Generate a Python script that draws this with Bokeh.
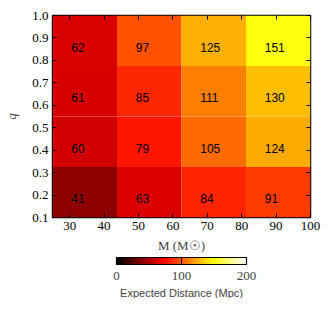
import numpy as np
from bokeh.plotting import figure
from bokeh.models import (LinearColorMapper, ColorBar, FixedTicker, LinearAxis,
                          ColumnDataSource, Title, Range1d, PrintfTickFormatter)
from bokeh.core.properties import value
from bokeh.embed import file_html
from bokeh.resources import INLINE

# ---- data ----
m_edges = [25.0, 43.75, 62.5, 81.25, 100.0]
q_edges = [0.1, 0.325, 0.55, 0.775, 1.0]
# rows: q bins bottom -> top ; columns: M bins left -> right
distance = [
    [41, 63, 84, 91],
    [60, 79, 105, 124],
    [61, 85, 111, 130],
    [62, 97, 125, 151],
]
x_ticks = [30, 40, 50, 60, 70, 80, 90, 100]
y_ticks = [0.1, 0.2, 0.3, 0.4, 0.5, 0.6, 0.7, 0.8, 0.9, 1.0]
cbar_ticks = [0, 100, 200]
cbar_low, cbar_high = 0, 200

# matplotlib "hot" colormap
def hot(n=256):
    cols = []
    for i in range(n):
        t = i / (n - 1)
        r = min(max(t / 0.365079, 0), 1)
        g = min(max((t - 0.365079) / (0.746032 - 0.365079), 0), 1)
        b = min(max((t - 0.746032) / (1 - 0.746032), 0), 1)
        cols.append("#%02x%02x%02x" % (int(round(r * 255)), int(round(g * 255)), int(round(b * 255))))
    return cols

palette = hot()
mapper = LinearColorMapper(palette=palette, low=cbar_low, high=cbar_high)

left, right, bottom, top, vals, tx, ty, labels = [], [], [], [], [], [], [], []
for i in range(4):
    for j in range(4):
        l, r = m_edges[j], m_edges[j + 1]
        b, t = q_edges[i], q_edges[i + 1]
        left.append(l); right.append(r); bottom.append(b); top.append(t)
        v = distance[i][j]
        vals.append(v)
        tx.append(l + 0.29 * (r - l))
        ty.append((b + t) / 2 - 0.125 * (t - b))
        labels.append(str(v))

src = ColumnDataSource(dict(left=left, right=right, bottom=bottom, top=top, v=vals,
                            tx=tx, ty=ty, lab=labels))

p = figure(frame_width=258, frame_height=202, output_backend="svg", toolbar_location=None,
           x_range=Range1d(25, 100), y_range=Range1d(0.1, 1.0),
           min_border_left=52, min_border_top=15, min_border_right=14, min_border_bottom=0)
p.background_fill_color = "white"
p.outline_line_color = "black"
p.outline_line_width = 1.5
p.xgrid.visible = False
p.ygrid.visible = False

p.quad(left="left", right="right", bottom="bottom", top="top", source=src,
       fill_color={"field": "v", "transform": mapper}, line_color=None)
p.text(x="tx", y="ty", text="lab", source=src, text_font=value("Liberation Sans"),
       text_font_size="12px", text_baseline="middle", text_align="left", text_color="black")

serif = "Liberation Serif"
for ax in (p.xaxis[0], p.yaxis[0]):
    ax.major_label_text_font = serif
    ax.major_label_text_font_size = "13px"
    ax.major_label_text_color = "black"
    ax.axis_label_text_font = serif
    ax.axis_label_text_font_style = "normal"
    ax.axis_label_text_font_size = "13px"
    ax.major_tick_in = 4
    ax.major_tick_out = 0
    ax.minor_tick_line_color = None
    ax.axis_line_color = None
    ax.major_tick_line_color = "black"
    ax.major_label_standoff = 4

p.xaxis[0].ticker = FixedTicker(ticks=x_ticks)
p.yaxis[0].ticker = FixedTicker(ticks=y_ticks)
p.yaxis[0].formatter = PrintfTickFormatter(format="%.1f")
p.xaxis[0].axis_label = "M (M\u2609)"
p.yaxis[0].axis_label = "q"
p.yaxis[0].axis_label_text_font_style = "italic"
p.xaxis[0].axis_label_standoff = 5
p.yaxis[0].axis_label_standoff = 10

for loc, tk in (("above", x_ticks), ("right", y_ticks)):
    ax = LinearAxis(ticker=FixedTicker(ticks=tk), major_label_text_font_size="1px",
                    major_label_text_color=None,
                    major_label_standoff=0, major_tick_in=4, major_tick_out=0,
                    minor_tick_line_color=None, axis_line_color=None)
    p.add_layout(ax, loc)

cb = ColorBar(color_mapper=mapper, orientation="horizontal", width=130, height=7,
              ticker=FixedTicker(ticks=cbar_ticks), location="center",
              major_label_text_font=serif, major_label_text_font_size="13px",
              major_tick_line_color="black", major_tick_in=7, major_tick_out=0,
              minor_tick_line_color=None, bar_line_color="black", bar_line_width=1.2,
              label_standoff=7, padding=2, border_line_color=None,
              background_fill_color=None)
p.add_layout(cb, "below")
p.add_layout(Title(text="Expected Distance (Mpc)", align="center",
                   text_font="Liberation Sans", text_font_size="11px",
                   text_font_style="normal", standoff=0), "below")

open("out.html", "w").write(file_html(p, INLINE))
